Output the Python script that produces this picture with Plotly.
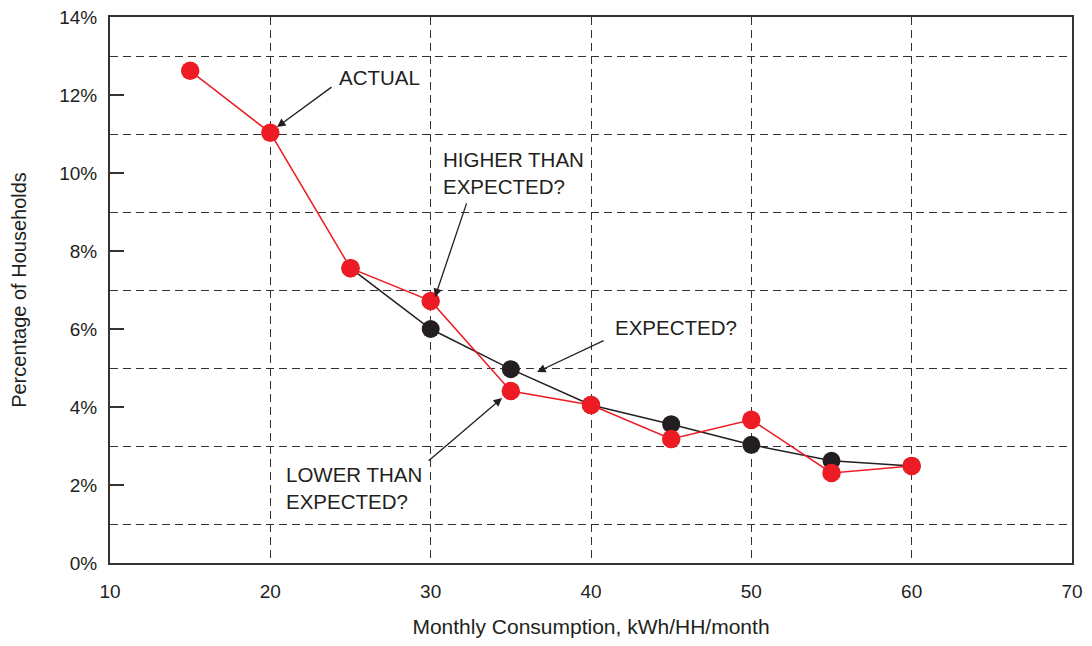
import plotly.graph_objects as go

# monthly consumption bins (kWh/HH/month)
actual_x = [15, 20, 25, 30, 35, 40, 45, 50, 55, 60]
actual_pct = [12.62, 11.03, 7.56, 6.72, 4.41, 4.05, 3.18, 3.67, 2.31, 2.49]

expected_x = [25, 30, 35, 40, 45, 50, 55, 60]
expected_pct = [7.56, 6.0, 4.97, 4.05, 3.56, 3.03, 2.62, 2.49]

red = '#ed1c24'
black = '#231f20'
font_family = 'Liberation Sans, Arial, sans-serif'

fig = go.Figure()

fig.add_trace(go.Scatter(x=expected_x, y=expected_pct,
                         mode='lines+markers',
                         line=dict(color=black, width=1.5),
                         marker=dict(color=black, size=18),
                         name='Expected'))

fig.add_trace(go.Scatter(x=actual_x, y=actual_pct,
                         mode='lines+markers',
                         line=dict(color=red, width=1.5),
                         marker=dict(color=red, size=18.5),
                         name='Actual'))

# callouts: (text, text x, text y, arrow head x, head y, tail x, tail y)
callouts = [
    ('ACTUAL', 24.16, 12.44, 20.42, 11.18, 23.91, 12.23),
    ('HIGHER THAN<br>EXPECTED?', 30.65, 10.0, 30.27, 6.82, 32.27, 9.26),
    ('EXPECTED?', 41.38, 6.03, 36.64, 4.90, 40.88, 5.72),
    ('LOWER THAN<br>EXPECTED?', 20.85, 1.92, 34.45, 4.23, 29.78, 2.59),
]

for text, tx, ty, hx, hy, ax, ay in callouts:
    fig.add_annotation(x=tx, y=ty, text=text, showarrow=False,
                       xanchor='left', yanchor='middle', align='left',
                       font=dict(size=20.5, color=black, family=font_family))
    fig.add_annotation(x=hx, y=hy, ax=ax, ay=ay, axref='x', ayref='y',
                       text='', showarrow=True, arrowhead=2, arrowsize=1.3,
                       arrowwidth=1.3, arrowcolor=black)

# page body has an 8px margin, so the figure is a bit smaller than the window
fig.update_layout(
    width=1076, height=630,
    margin=dict(l=102, r=12, t=9, b=75),
    plot_bgcolor='white', paper_bgcolor='white',
    showlegend=False,
    font=dict(family=font_family, size=18, color=black),
)

grid_dash = '8px,5px'

fig.update_xaxes(
    range=[10, 70], dtick=10, tick0=10, automargin=False,
    showgrid=True, griddash=grid_dash, gridcolor='#333333', gridwidth=1.3,
    showline=True, linecolor='#333333', linewidth=2, mirror=True,
    ticks='', zeroline=False, tickfont=dict(size=19), ticklabelstandoff=10,
    ticklabeloverflow='allow',
    title=dict(text='Monthly Consumption, kWh/HH/month', font=dict(size=21), standoff=35),
)

fig.update_yaxes(
    range=[0, 14], dtick=2, tick0=0, ticksuffix='%', automargin=False,
    showgrid=False,
    minor=dict(dtick=1, tick0=0, showgrid=True, griddash=grid_dash,
               gridcolor='#333333', gridwidth=1.3, ticks=''),
    showline=True, linecolor='#333333', linewidth=2, mirror=True,
    ticks='inside', ticklen=14, tickwidth=1.5, tickcolor='#333333',
    zeroline=False, tickfont=dict(size=19), ticklabelstandoff=7,
    ticklabeloverflow='allow',
    title=dict(text='Percentage of Households', font=dict(size=20), standoff=29),
)

fig.write_html('out.html')
